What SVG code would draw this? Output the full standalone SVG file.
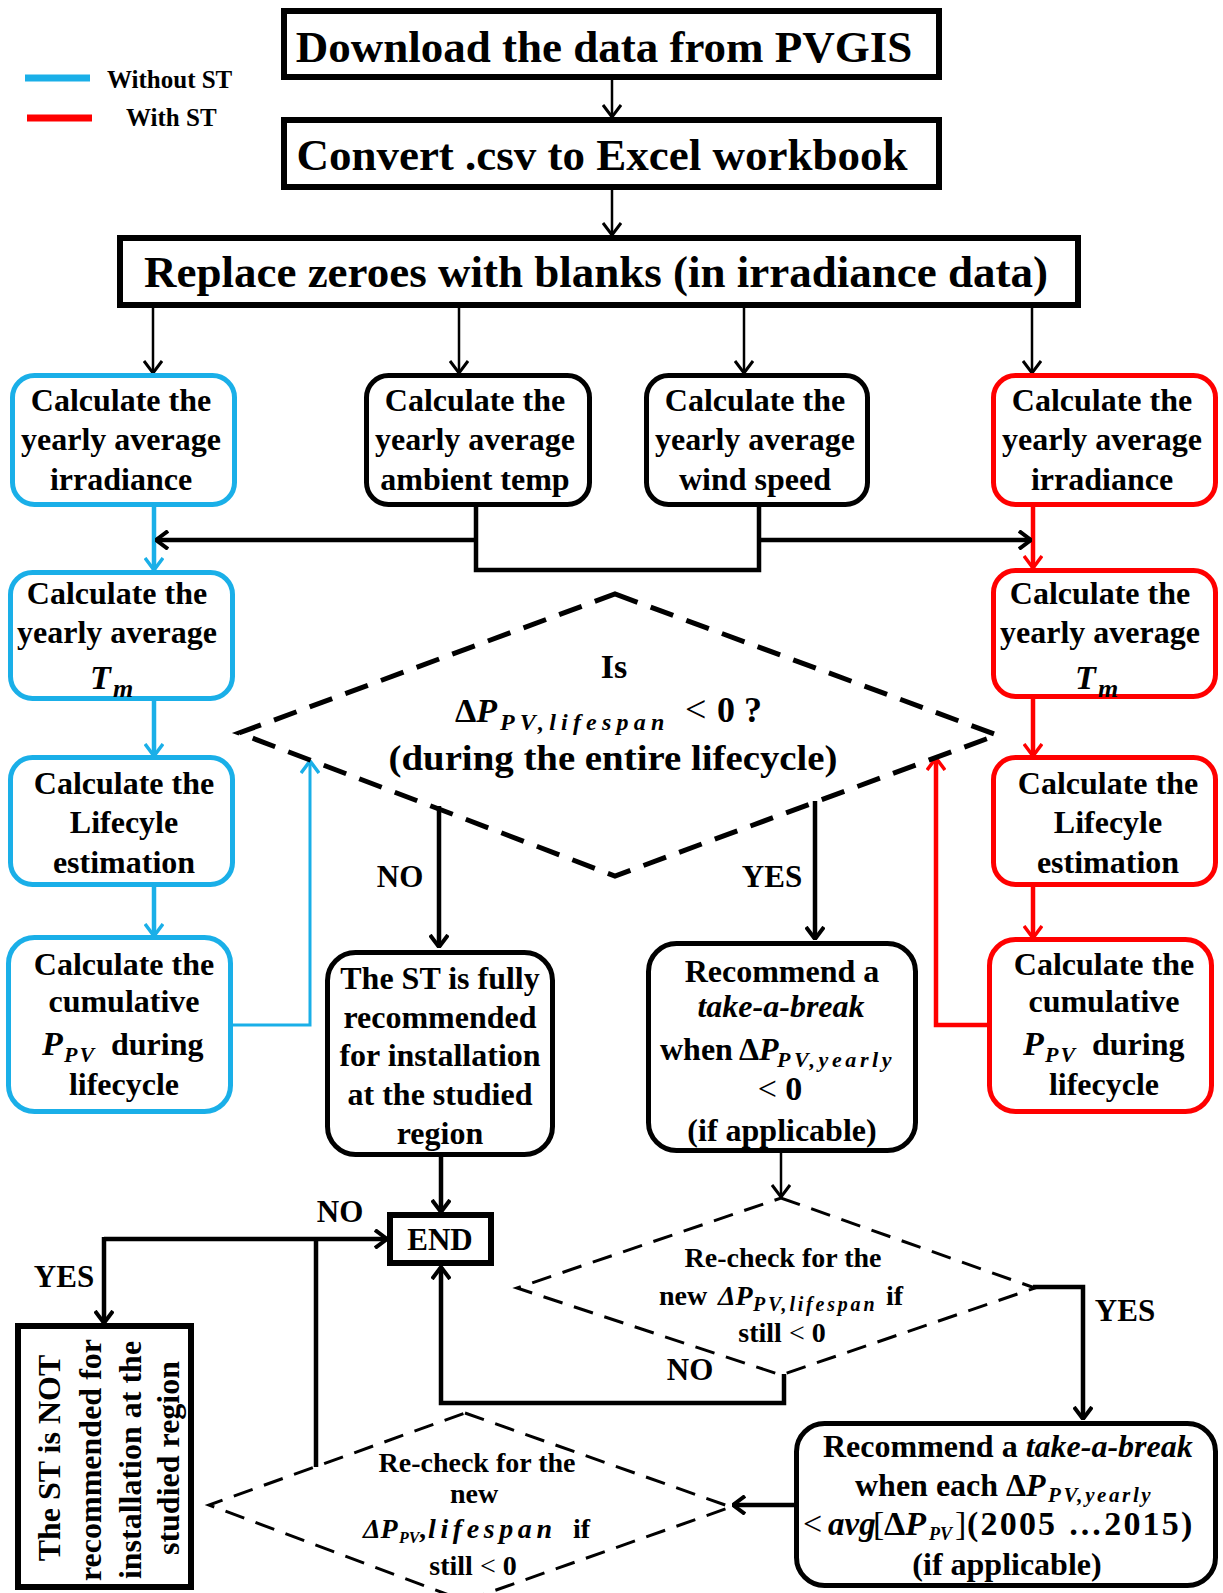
<svg xmlns="http://www.w3.org/2000/svg" width="1223" height="1593" viewBox="0 0 1223 1593">
<style>
text { font-family: "Liberation Serif", "Times New Roman", serif; font-weight: bold; fill: #000; }
.c { text-anchor: middle; }
.big { font-size: 45px; }
.b { font-size: 32px; }
.s { font-size: 28px; }
.lbl { font-size: 31px; }
.i { font-style: italic; }
.n { font-weight: normal; }
.box { fill: #fff; stroke: #000; stroke-width: 6; }
.rb { fill: #fff; stroke-width: 5; }
.blk { stroke: #000; }
.blu { stroke: #1AAFE8; }
.red { stroke: #FF0000; }
.dia1 { fill: none; stroke: #000; stroke-width: 5; stroke-dasharray: 24 14; }
.dia2 { fill: none; stroke: #000; stroke-width: 3; stroke-dasharray: 20 12; }
.ln { fill: none; stroke: #000; stroke-width: 2.5; }
.lk { fill: none; stroke: #000; stroke-width: 4.5; }
.lb { fill: none; stroke: #1AAFE8; stroke-width: 4.5; }
.lr { fill: none; stroke: #FF0000; stroke-width: 4.5; }
</style>
<defs>
<marker id="ak" viewBox="0 0 14 20" refX="13" refY="10" markerWidth="14" markerHeight="20" orient="auto" markerUnits="userSpaceOnUse"><path d="M1,1 L13,10 L1,19" fill="none" stroke="#000" stroke-width="3"/></marker>
<marker id="akt" viewBox="0 0 14 20" refX="13" refY="10" markerWidth="14" markerHeight="20" orient="auto" markerUnits="userSpaceOnUse"><path d="M1,1 L13,10 L1,19" fill="none" stroke="#000" stroke-width="4"/></marker>
<marker id="ab" viewBox="0 0 14 20" refX="13" refY="10" markerWidth="14" markerHeight="20" orient="auto" markerUnits="userSpaceOnUse"><path d="M1,1 L13,10 L1,19" fill="none" stroke="#1AAFE8" stroke-width="3.5"/></marker>
<marker id="ar" viewBox="0 0 14 20" refX="13" refY="10" markerWidth="14" markerHeight="20" orient="auto" markerUnits="userSpaceOnUse"><path d="M1,1 L13,10 L1,19" fill="none" stroke="#FF0000" stroke-width="3.5"/></marker>
</defs>
<rect width="1223" height="1593" fill="#fff"/>

<g id="legend">
<line x1="25" y1="78" x2="90" y2="78" stroke="#1AAFE8" stroke-width="7"/>
<text x="107" y="88" style="font-size:25px">Without ST</text>
<line x1="27" y1="118" x2="92" y2="118" stroke="#FF0000" stroke-width="7"/>
<text x="126" y="126" style="font-size:25px">With ST</text>
</g>

<g id="connectors">
<path class="ln" d="M612,80 V117" marker-end="url(#ak)"/>
<path class="ln" d="M612,190 V235" marker-end="url(#ak)"/>
<path class="ln" d="M153,308 V373" marker-end="url(#ak)"/>
<path class="ln" d="M459,308 V373" marker-end="url(#ak)"/>
<path class="ln" d="M744,308 V373" marker-end="url(#ak)"/>
<path class="ln" d="M1032,308 V373" marker-end="url(#ak)"/>
<path class="lb" d="M154,507 V570" marker-end="url(#ab)"/>
<path class="lb" d="M154,700 V756" marker-end="url(#ab)"/>
<path class="lb" d="M154,887 V936" marker-end="url(#ab)"/>
<path class="lb" style="stroke-width:3" d="M233,1025 H310 V761" marker-end="url(#ab)"/>
<path class="lr" d="M1033,507 V568" marker-end="url(#ar)"/>
<path class="lr" d="M1033,698 V756" marker-end="url(#ar)"/>
<path class="lr" d="M1033,887 V938" marker-end="url(#ar)"/>
<path class="lr" d="M988,1025 H936 V758" marker-end="url(#ar)"/>
<path class="lk" d="M476,507 V570 H759 V507"/>
<path class="lk" d="M476,540 H156" marker-end="url(#akt)"/>
<path class="lk" d="M759,540 H1031" marker-end="url(#akt)"/>
<path class="lk" d="M439,806 V947" marker-end="url(#akt)"/>
<path class="lk" d="M815,801 V939" marker-end="url(#akt)"/>
<path class="lk" d="M441,1157 V1212" marker-end="url(#akt)"/>
<path class="ln" d="M781,1153 V1197" marker-end="url(#ak)"/>
<path class="lk" d="M1033,1287 H1083 V1419" marker-end="url(#akt)"/>
<path class="lk" d="M784,1374 V1403 H441 V1267" marker-end="url(#akt)"/>
<path class="lk" d="M794,1505 H733" marker-end="url(#akt)"/>
<path class="lk" d="M316,1467 V1239"/>
<path class="lk" d="M104,1239 H387" marker-end="url(#akt)"/>
<path class="lk" d="M104,1237 V1323" marker-end="url(#akt)"/>
<text class="c lbl" x="400" y="887">NO</text>
<text class="c lbl" x="772" y="887">YES</text>
<text class="c lbl" x="340" y="1222">NO</text>
<text class="c lbl" x="64" y="1287">YES</text>
<text class="c lbl" x="690" y="1380">NO</text>
<text class="c lbl" x="1125" y="1321">YES</text>
</g>

<g id="n_download">
<rect class="box" x="284" y="11" width="655" height="66"/>
<text class="c big" x="604" y="62">Download the data from PVGIS</text>
</g>
<g id="n_convert">
<rect class="box" x="284" y="120" width="655" height="67"/>
<text class="c big" x="602" y="170">Convert .csv to Excel workbook</text>
</g>
<g id="n_replace">
<rect class="box" x="120" y="238" width="958" height="67"/>
<text class="c big" x="596" y="287">Replace zeroes with blanks (in irradiance data)</text>
</g>

<g id="n_irr_blue">
<rect class="rb blu" x="12.5" y="375.5" width="222" height="129" rx="22"/>
<text class="c b" x="121" y="411">Calculate the</text>
<text class="c b" x="121" y="450">yearly average</text>
<text class="c b" x="121" y="490">irradiance</text>
</g>
<g id="n_ambient">
<rect class="rb blk" x="366.5" y="375.5" width="223" height="129" rx="22"/>
<text class="c b" x="475" y="411">Calculate the</text>
<text class="c b" x="475" y="450">yearly average</text>
<text class="c b" x="475" y="490">ambient temp</text>
</g>
<g id="n_wind">
<rect class="rb blk" x="646.5" y="375.5" width="221" height="129" rx="22"/>
<text class="c b" x="755" y="411">Calculate the</text>
<text class="c b" x="755" y="450">yearly average</text>
<text class="c b" x="755" y="490">wind speed</text>
</g>
<g id="n_irr_red">
<rect class="rb red" x="993.5" y="375.5" width="222" height="129" rx="22"/>
<text class="c b" x="1102" y="411">Calculate the</text>
<text class="c b" x="1102" y="450">yearly average</text>
<text class="c b" x="1102" y="490">irradiance</text>
</g>

<g id="n_tm_blue">
<rect class="rb blu" x="10.5" y="572.5" width="222" height="126" rx="22"/>
<text class="c b" x="117" y="604">Calculate the</text>
<text class="c b" x="117" y="643">yearly average</text>
<text x="90" y="689" class="i" style="font-size:34px">T<tspan x="113" y="697" style="font-size:26px">m</tspan></text>
</g>
<g id="n_tm_red">
<rect class="rb red" x="993.5" y="570.5" width="222" height="126" rx="22"/>
<text class="c b" x="1100" y="604">Calculate the</text>
<text class="c b" x="1100" y="643">yearly average</text>
<text x="1075" y="689" class="i" style="font-size:34px">T<tspan x="1098" y="697" style="font-size:26px">m</tspan></text>
</g>

<g id="n_life_blue">
<rect class="rb blu" x="10.5" y="757.5" width="222" height="127" rx="22"/>
<text class="c b" x="124" y="794">Calculate the</text>
<text class="c b" x="124" y="833">Lifecyle</text>
<text class="c b" x="124" y="873">estimation</text>
</g>
<g id="n_life_red">
<rect class="rb red" x="993.5" y="757.5" width="222" height="127" rx="22"/>
<text class="c b" x="1108" y="794">Calculate the</text>
<text class="c b" x="1108" y="833">Lifecyle</text>
<text class="c b" x="1108" y="873">estimation</text>
</g>

<g id="n_cum_blue">
<rect class="rb blu" x="8.5" y="937.5" width="222" height="174" rx="26"/>
<text class="c b" x="124" y="975">Calculate the</text>
<text class="c b" x="124" y="1012">cumulative</text>
<text x="42" y="1055" class="i" style="font-size:34px">P<tspan x="64" y="1062" style="font-size:22px;letter-spacing:2px">PV</tspan><tspan x="111" y="1055" style="font-style:normal;font-size:32px">during</tspan></text>
<text class="c b" x="124" y="1095">lifecycle</text>
</g>
<g id="n_cum_red">
<rect class="rb red" x="989.5" y="939.5" width="222" height="172" rx="26"/>
<text class="c b" x="1104" y="975">Calculate the</text>
<text class="c b" x="1104" y="1012">cumulative</text>
<text x="1023" y="1055" class="i" style="font-size:34px">P<tspan x="1045" y="1062" style="font-size:22px;letter-spacing:2px">PV</tspan><tspan x="1092" y="1055" style="font-style:normal;font-size:32px">during</tspan></text>
<text class="c b" x="1104" y="1095">lifecycle</text>
</g>

<g id="n_decision_main">
<polygon class="dia1" points="615,594 997,735 615,876 239,733"/>
<text class="c" x="614" y="678" style="font-size:34px">Is</text>
<text x="455" y="722" style="font-size:34px">Δ<tspan class="i">P</tspan><tspan x="500" y="730" class="i" style="font-size:24px;letter-spacing:5.2px">PV,lifespan</tspan><tspan x="685" y="722" class="n" style="font-size:38px">&lt;</tspan><tspan x="717" y="722" style="font-size:36px">0 ?</tspan></text>
<text class="c" x="613" y="770" style="font-size:35px" textLength="449" lengthAdjust="spacingAndGlyphs">(during the entire lifecycle)</text>
</g>

<g id="n_fully">
<rect class="rb blk" x="327.5" y="952.5" width="225" height="202" rx="28"/>
<text class="c b" x="440" y="989">The ST is fully</text>
<text class="c b" x="440" y="1028">recommended</text>
<text class="c b" x="440" y="1066">for installation</text>
<text class="c b" x="440" y="1105">at the studied</text>
<text class="c b" x="440" y="1144">region</text>
</g>

<g id="n_rec1">
<rect class="rb blk" x="648.5" y="943.5" width="267" height="207" rx="28"/>
<text class="c b" x="782" y="982">Recommend a</text>
<text class="c b i" x="781" y="1017">take-a-break</text>
<text x="660" y="1060" class="b">when<tspan x="739">Δ</tspan><tspan class="i">P</tspan><tspan x="777" y="1067" class="i" style="font-size:22px;letter-spacing:3.6px">PV,yearly</tspan></text>
<text x="780" y="1100" class="c" style="font-size:34px"><tspan class="n">&lt;</tspan> 0</text>
<text class="c b" x="782" y="1141">(if applicable)</text>
</g>

<g id="n_end">
<rect class="box" x="390" y="1215" width="101" height="48"/>
<text class="c" x="440" y="1250" style="font-size:31px">END</text>
</g>

<g id="n_not">
<rect class="box" x="18" y="1326" width="173" height="261"/>
<text class="c b" transform="translate(60,1458) rotate(-90)">The ST is NOT</text>
<text class="c b" transform="translate(101,1460) rotate(-90)">recommended for</text>
<text class="c b" transform="translate(141,1460) rotate(-90)">installation at the</text>
<text class="c b" transform="translate(179,1458) rotate(-90)">studied region</text>
</g>

<g id="n_recheck1">
<polygon class="dia2" points="781,1198 1035,1288 781,1375 517,1288"/>
<text class="c s" x="783" y="1267">Re-check for the</text>
<text x="659" y="1305" class="s">new<tspan x="718" class="i">ΔP</tspan><tspan x="753" y="1311" class="i" style="font-size:20px;letter-spacing:2.8px">PV,lifespan</tspan><tspan x="886" y="1305">if</tspan></text>
<text x="782" y="1342" class="c s">still <tspan class="n">&lt;</tspan> 0</text>
</g>

<g id="n_rec2">
<rect class="rb blk" x="796.5" y="1423.5" width="419" height="162" rx="28"/>
<text x="823" y="1457" class="b">Recommend a <tspan class="i">take-a-break</tspan></text>
<text x="855" y="1496" class="b">when each <tspan x="1006">Δ</tspan><tspan class="i">P</tspan><tspan x="1048" y="1502" class="i" style="font-size:21px;letter-spacing:2.6px">PV,yearly</tspan></text>
<text x="803" y="1535" style="font-size:34px"><tspan class="n">&lt;</tspan><tspan x="828" class="i" style="font-size:33px">avg</tspan><tspan x="873" class="n">[</tspan><tspan x="884">Δ</tspan><tspan class="i">P</tspan><tspan x="929" y="1540" class="i" style="font-size:18px">PV</tspan><tspan x="955" y="1535" class="n">]</tspan><tspan x="967" style="letter-spacing:2.2px">(2005 …2015)</tspan></text>
<text class="c b" x="1007" y="1575">(if applicable)</text>
</g>

<g id="n_recheck2">
<polygon class="dia2" points="465,1413 731,1507 465,1601 209,1505"/>
<text class="c s" x="477" y="1472">Re-check for the</text>
<text class="c s" x="474" y="1503">new</text>
<text x="363" y="1538" class="s"><tspan class="i">ΔP</tspan><tspan x="399" y="1543" class="i" style="font-size:16px">PV</tspan><tspan x="419" y="1538">,</tspan><tspan x="428" class="i" style="letter-spacing:4.6px">lifespan</tspan><tspan x="573">if</tspan></text>
<text x="473" y="1575" class="c s">still <tspan class="n">&lt;</tspan> 0</text>
</g>
</svg>
